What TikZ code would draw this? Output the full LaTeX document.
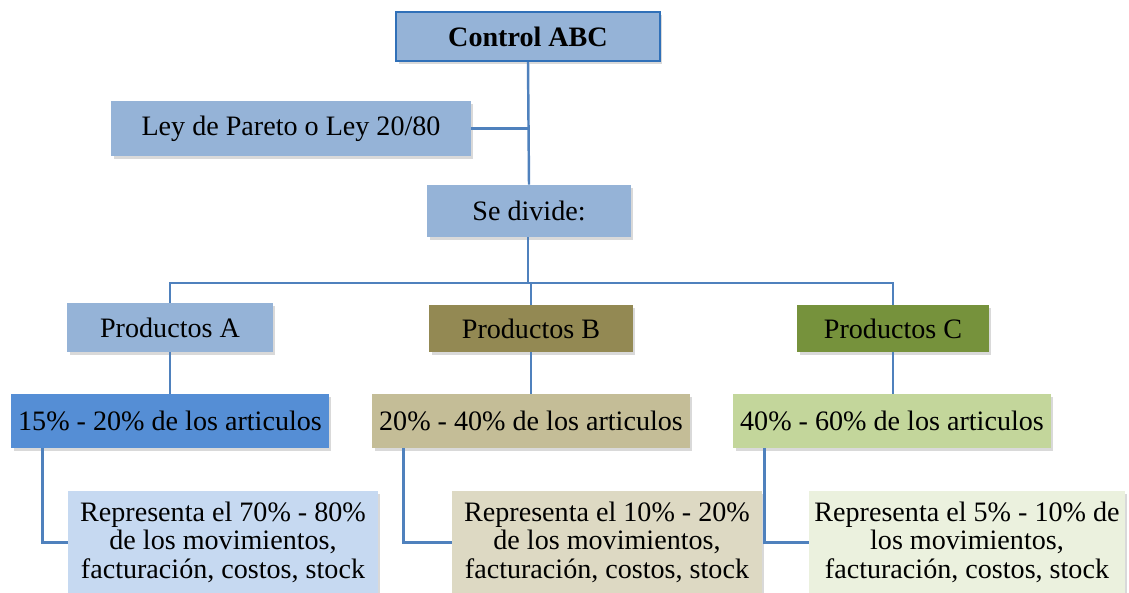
\documentclass[tikz,border=0pt]{standalone}
\usepackage{fontspec}
\setmainfont{Liberation Serif}
\usetikzlibrary{shadows}
\definecolor{paleblue}{HTML}{95B3D7}
\definecolor{midblue}{HTML}{558ED5}
\definecolor{lightblue}{HTML}{C6D9F1}
\definecolor{olive}{HTML}{938953}
\definecolor{tan}{HTML}{C4BD97}
\definecolor{lighttan}{HTML}{DDD9C3}
\definecolor{moss}{HTML}{76923C}
\definecolor{lime}{HTML}{C3D69B}
\definecolor{lightlime}{HTML}{EBF1DE}
\definecolor{wire}{HTML}{4F81BD}
\definecolor{rim}{HTML}{3070B8}

\begin{document}
\begin{tikzpicture}
                [
                    x=0.02cm,y=-0.02cm,
                    box/.style={rectangle,fill=#1,inner sep=0,font=\fontsize{16}{16.2}\selectfont,
                        drop shadow={shadow xshift=0.05cm,shadow yshift=-0.06cm,opacity=0.3}},
                    note/.style={box=#1,anchor=north,align=center,inner xsep=0.1cm,inner ysep=6pt,minimum width=6.2cm},
                    wire/.style={draw=wire,line width=1.4pt},
                ]
                \useasboundingbox (0,0) rectangle (1129,592);
                \clip (0,0) rectangle (1129,592);
                % top of the tree
                \draw (528,36.5) node[box=paleblue,draw=rim,line width=1.4pt,minimum width=5.28cm,minimum height=0.98cm] (ctrl) {\textbf{Control ABC}};
                \draw (291,128.5) node[box=paleblue,minimum width=7.2cm,minimum height=1.1cm] (ley) {Ley de Pareto o Ley 20/80};
                \draw (529,211) node[box=paleblue,minimum width=4.08cm,minimum height=1.04cm] (div) {Se divide:};
                \coordinate (bus) at (528,283);
                % the three groups
                \draw (170,327.5) node[box=paleblue,minimum width=4.12cm,minimum height=0.98cm] (pa) {Productos A};
                \draw (531,328.5) node[box=olive,minimum width=4.08cm,minimum height=0.94cm] (pb) {Productos B};
                \draw (893,328.5) node[box=moss,minimum width=3.84cm,minimum height=0.94cm] (pc) {Productos C};
                \draw (170,421) node[box=midblue,minimum width=6.36cm,minimum height=1.08cm] (fa) {15\% - 20\% de los articulos};
                \draw (531,421) node[box=tan,minimum width=6.36cm,minimum height=1.08cm] (fb) {20\% - 40\% de los articulos};
                \draw (892,421) node[box=lime,minimum width=6.36cm,minimum height=1.08cm] (fc) {40\% - 60\% de los articulos};
                \draw (223,491) node[note=lightblue] (ra) {Representa el 70\% - 80\%\\de los movimientos,\\facturación, costos, stock};
                \draw (607,491) node[note=lighttan] (rb) {Representa el 10\% - 20\%\\de los movimientos,\\facturación, costos, stock};
                \draw (967,491) node[note=lightlime] (rc) {Representa el 5\% - 10\% de\\los movimientos,\\facturación, costos, stock};
                % connectors
                \draw[wire] (ctrl.south) -- (div.north);
                \draw[wire] (ley.east) -- (ley.east -| ctrl.south);
                \draw[wire] (div.south -| ctrl.south) -- (bus);
                \draw[wire] (pa.north) |- (bus) -| (pc.north);
                \draw[wire] (bus -| pb.north) -- (pb.north);
                \draw[wire] (pa.south) -- (pa.south |- fa.north);
                \draw[wire] (pb.south) -- (pb.south |- fb.north);
                \draw[wire] (pc.south) -- (pc.south |- fc.north);
                \draw[wire] ([xshift=0.64cm]fa.south west) |- (ra.west);
                \draw[wire] ([xshift=0.64cm]fb.south west) |- (rb.west);
                \draw[wire] ([xshift=0.64cm]fc.south west) |- (rc.west);
            \end{tikzpicture}
\end{document}
